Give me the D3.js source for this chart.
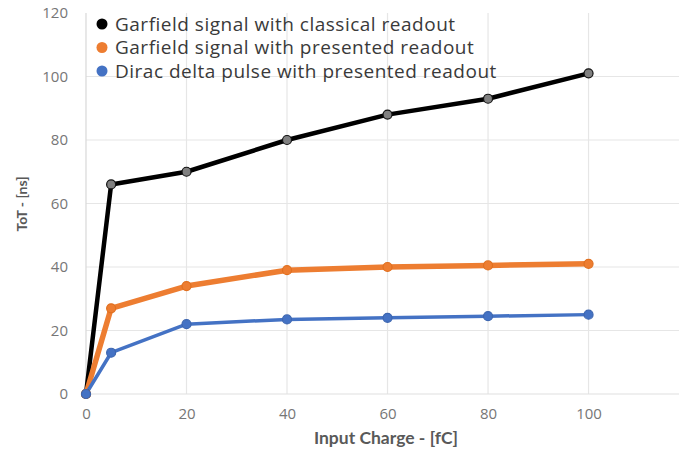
<!DOCTYPE html>
<html>
<head>
<meta charset="utf-8">
<script src="https://cdn.jsdelivr.net/npm/d3@7"></script>
<style>
  html, body { margin: 0; padding: 0; background: #fff; }
  svg { display: block; }
</style>
</head>
<body>
<svg id="chart" width="679" height="456"></svg>
<script>
// Input charge values (fC)
const charges = [0, 5, 20, 40, 60, 80, 100];

// Time over threshold (ns) for each configuration
const garfieldClassical = [0, 66, 70, 80, 88, 93, 101];
const garfieldPresented = [0, 27, 34, 39, 40, 40.5, 41];
const diracPresented    = [0, 13, 22, 23.5, 24, 24.5, 25];

const seriesNames = [
  "Garfield signal with classical readout",
  "Garfield signal with presented readout",
  "Dirac delta pulse with presented readout"
];

const xTicks = [0, 20, 40, 60, 80, 100];
const yTicks = [0, 20, 40, 60, 80, 100, 120];

const series = [
  { name: seriesNames[0], values: garfieldClassical, color: "#000000", width: 4.5, marker: "#808080", markerStroke: "#111" },
  { name: seriesNames[1], values: garfieldPresented, color: "#ed7d31", width: 5.5, marker: "#ed7d31", markerStroke: "#e07020" },
  { name: seriesNames[2], values: diracPresented,    color: "#4472c4", width: 3.5, marker: "#4472c4", markerStroke: "#3d66b0" }
];

const svg = d3.select("#chart");

const x = d3.scaleLinear().domain([0, 118]).range([86, 679]);
const y = d3.scaleLinear().domain([0, 120]).range([394, 13]);

// Grid
const grid = svg.append("g");
grid.selectAll("line.h").data(yTicks.filter(d => d > 0 && d < 120)).join("line")
  .attr("x1", x(0)).attr("x2", 679)
  .attr("y1", d => y(d)).attr("y2", d => y(d))
  .attr("stroke", "#e6e6e6").attr("stroke-width", 1.2);
grid.selectAll("line.v").data(xTicks.filter(d => d > 0)).join("line")
  .attr("x1", d => x(d)).attr("x2", d => x(d))
  .attr("y1", y(120)).attr("y2", y(0))
  .attr("stroke", "#e6e6e6").attr("stroke-width", 1.2);
// baseline and left axis line
grid.append("line").attr("x1", x(0)).attr("x2", 679).attr("y1", y(0)).attr("y2", y(0))
  .attr("stroke", "#e0e0e0").attr("stroke-width", 1.2);
grid.append("line").attr("x1", x(0)).attr("x2", x(0)).attr("y1", y(120)).attr("y2", y(0))
  .attr("stroke", "#d8d8d8").attr("stroke-width", 1.2);

// Axes (labels only)
const xAxis = d3.axisBottom(x).tickValues(xTicks).tickSize(0).tickPadding(14);
const yAxis = d3.axisLeft(y).tickValues(yTicks).tickSize(0).tickPadding(18);

const gx = svg.append("g").attr("transform", `translate(0,${y(0)})`).call(xAxis);
const gy = svg.append("g").attr("transform", `translate(${x(0)},0)`).call(yAxis);
[gx, gy].forEach(g => {
  g.select(".domain").remove();
  g.selectAll("text")
    .attr("fill", "#767676")
    .style("font-family", "'Open Sans', sans-serif")
    .style("font-size", "15px");
});

// Lines
const line = d3.line().x((d, i) => x(charges[i])).y(d => y(d));

series.forEach(s => {
  svg.append("path")
    .datum(s.values)
    .attr("d", line)
    .attr("fill", "none")
    .attr("stroke", s.color)
    .attr("stroke-width", s.width)
    .attr("stroke-linejoin", "round")
    .attr("stroke-linecap", "round");
});

series.forEach(s => {
  svg.append("g").selectAll("circle").data(s.values).join("circle")
    .attr("cx", (d, i) => x(charges[i]))
    .attr("cy", d => y(d))
    .attr("r", 4.5)
    .attr("fill", s.marker)
    .attr("stroke", s.markerStroke)
    .attr("stroke-width", 1.2);
});

// Legend
const legend = svg.append("g");
series.forEach((s, i) => {
  const ly = 24 + i * 23.5;
  legend.append("circle")
    .attr("cx", 102).attr("cy", ly).attr("r", 5.5)
    .attr("fill", i === 0 ? "#000" : s.color);
  legend.append("text")
    .attr("x", 115).attr("y", ly + 6.5)
    .attr("fill", "#3a3a3a")
    .style("font-family", "'Open Sans', sans-serif")
    .style("font-size", "19px")
    .style("letter-spacing", "0.5px")
    .text(s.name);
});

// Axis titles
svg.append("text")
  .attr("x", 386).attr("y", 444)
  .attr("text-anchor", "middle")
  .attr("fill", "#595959")
  .style("font-family", "Lato, sans-serif")
  .style("font-weight", "bold")
  .style("font-size", "17.5px")
  .text("Input Charge - [fC]");

svg.append("text")
  .attr("transform", `translate(27,${204}) rotate(-90)`)
  .attr("text-anchor", "middle")
  .attr("fill", "#595959")
  .style("font-family", "Lato, sans-serif")
  .style("font-weight", "bold")
  .style("font-size", "14px")
  .text("ToT - [ns]");
</script>
</body>
</html>
